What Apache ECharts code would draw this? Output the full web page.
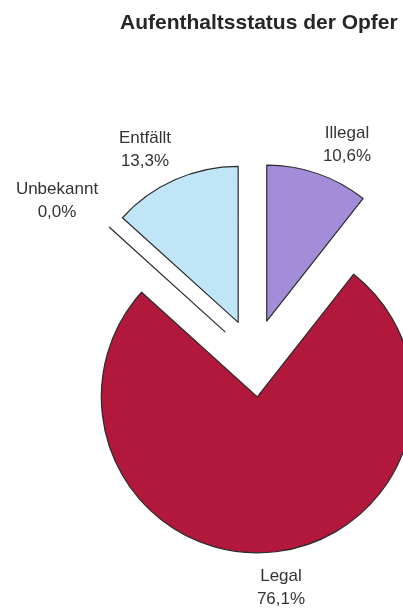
<!DOCTYPE html>
<html>
<head>
<meta charset="utf-8">
<script src="https://cdn.jsdelivr.net/npm/echarts@6/dist/echarts.min.js"></script>
<style>
  html, body { margin: 0; padding: 0; background: #ffffff; }
  #chart { width: 403px; height: 609px; }
</style>
</head>
<body>
<div id="chart"></div>
<script>
// Aufenthaltsstatus der Opfer (Anteile in Prozent)
const categories = ['Illegal', 'Legal', 'Unbekannt', 'Entfällt'];
const shares = [10.6, 76.1, 0.0, 13.3];
const sliceColors = ['#a48dd8', '#b1183b', '#ffffff', '#bfe5f6'];

// Label anchor points (centre of the two-line text), per category
const labelSpots = {
  'Illegal':   [347, 145],
  'Legal':     [281, 588],
  'Unbekannt': [57, 201],
  'Entfällt':  [145, 150]
};

const fmt = v => v.toFixed(1).replace('.', ',') + '%';
const FONT = 'Liberation Sans, Arial, sans-serif';
const PIE_CENTER = [254, 358];
const PIE_RADIUS = [0, 156];

const pieData = (withColors) => categories.map((name, i) => ({
  name: name,
  value: shares[i],
  selected: withColors,
  itemStyle: withColors ? { color: sliceColors[i] } : { color: 'rgba(0,0,0,0)' }
}));

const chart = echarts.init(document.getElementById('chart'), null, { renderer: 'canvas' });

chart.setOption({
  backgroundColor: '#ffffff',
  animation: false,
  title: {
    text: 'Aufenthaltsstatus der Opfer',
    left: 115,
    top: 8,
    textStyle: {
      fontFamily: FONT,
      fontWeight: 'bold',
      fontSize: 21,
      color: '#262626'
    }
  },
  series: [
    {
      // exploded slices
      type: 'pie',
      center: PIE_CENTER,
      radius: PIE_RADIUS,
      startAngle: 90,
      clockwise: true,
      selectedMode: 'multiple',
      selectedOffset: 39,
      silent: true,
      itemStyle: { borderColor: '#2b2b2b', borderWidth: 1.2 },
      label: { show: false },
      labelLine: { show: false },
      data: pieData(true)
    },
    {
      // category / percentage labels
      type: 'pie',
      center: PIE_CENTER,
      radius: PIE_RADIUS,
      startAngle: 90,
      clockwise: true,
      silent: true,
      avoidLabelOverlap: false,
      itemStyle: { borderWidth: 0 },
      label: {
        show: true,
        position: 'outside',
        formatter: p => p.name + '\n' + fmt(p.value),
        fontFamily: FONT,
        fontSize: 17,
        lineHeight: 23,
        color: '#333333',
        align: 'center'
      },
      labelLine: { show: false },
      labelLayout: params => {
        const spot = labelSpots[categories[params.dataIndex]];
        return { x: spot[0], y: spot[1], align: 'center', verticalAlign: 'middle' };
      },
      data: pieData(false)
    }
  ]
});
</script>
</body>
</html>
